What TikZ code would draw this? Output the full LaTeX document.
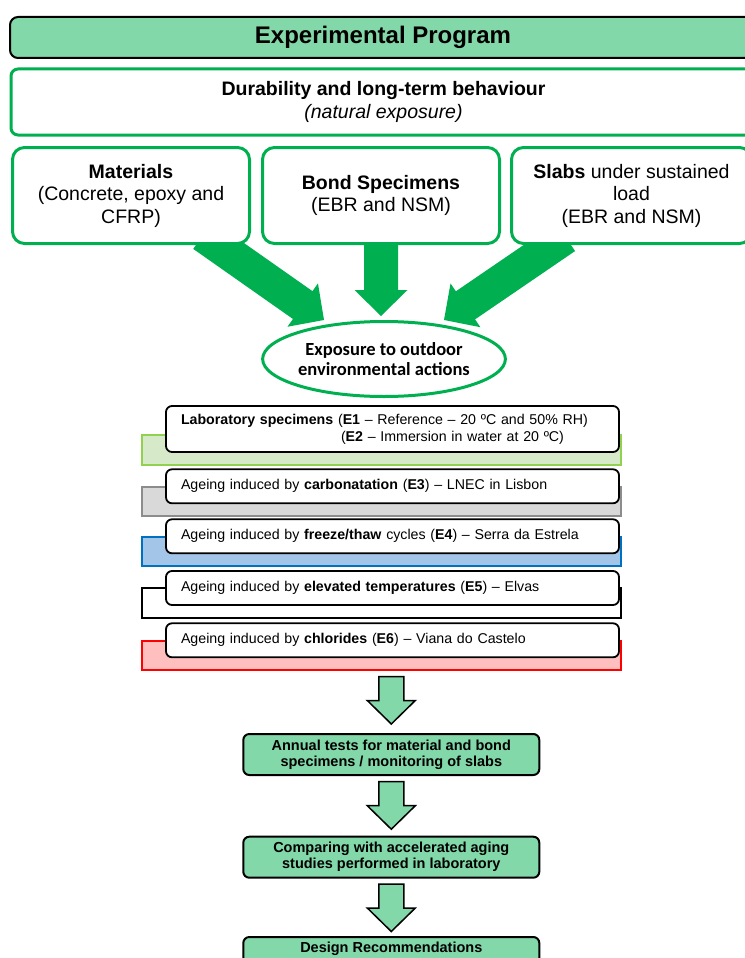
\documentclass[tikz,border=0pt]{standalone}
\usepackage{fontspec}
\setmainfont{Liberation Sans}
\newfontfamily\calibri{Carlito}
\usetikzlibrary{arrows.meta,positioning,calc,backgrounds,shapes.geometric}
\definecolor{Mint}{HTML}{82D8A8}
\definecolor{Leaf}{HTML}{00B050}
\definecolor{Lime}{HTML}{92D050}
\definecolor{LimeFill}{HTML}{D6E9C8}
\definecolor{Ash}{HTML}{8C8C8C}
\definecolor{AshFill}{HTML}{D9D9D9}
\definecolor{Sea}{HTML}{0070C0}
\definecolor{SeaFill}{HTML}{A3C5E7}
\definecolor{Rose}{HTML}{FF0000}
\definecolor{RoseFill}{HTML}{FFBFBF}
% block arrow: [style]{tail}{tip}{half shaft}{half head}{head length}
\newcommand{\fatarrow}[6][]{%
  \path ($(#3)!#6!(#2)$) coordinate (hb);
  \path[#1] ($(#2)!#4!90:(#3)$) -- ($(hb)!#4!-90:(#2)$) -- ($(hb)!#5!-90:(#2)$) -- (#3)
    -- ($(hb)!#5!90:(#2)$) -- ($(hb)!#4!90:(#2)$) -- ($(#2)!#4!-90:(#3)$) -- cycle;}

\begin{document}
\begin{tikzpicture}[x=1pt,y=-1pt,
    hdr/.style={draw,line width=2pt,rounded corners=8pt,fill=Mint,minimum width=746pt,minimum height=41pt,font=\fontsize{24}{28}\selectfont\bfseries},
    gbox/.style={draw=Leaf,line width=3pt,rounded corners=12pt,fill=white,align=center,inner sep=0pt,font=\fontsize{19.5}{22.5}\selectfont},
    lay/.style={draw,line width=1.8pt,rounded corners=6pt,fill=white,text width=423pt,inner xsep=15pt,inner ysep=0pt,align=left,minimum height=34pt,font=\fontsize{14.2}{17}\selectfont},
    back/.style={line width=2pt},
    res/.style={draw,line width=2pt,rounded corners=6pt,fill=Mint,minimum width=296pt,minimum height=41pt,inner sep=0pt,align=center,font=\fontsize{14.5}{16}\selectfont\bfseries},
    big/.style={fill=Leaf},
    flow/.style={fill=Mint,draw,line width=1.5pt}]
  \useasboundingbox (0,0) rectangle (744,958);
  \node[hdr] (prog) at (383,37.5) {Experimental Program};
  \node[gbox,rounded corners=7pt,minimum width=745pt,minimum height=66pt] (dur) at (383.5,102)
    {\textbf{Durability and long-term behaviour}\\\textit{(natural exposure)}};
  \node[gbox,minimum width=237pt,minimum height=96pt] (mat) at (131,195.5)
    {\textbf{Materials}\\(Concrete, epoxy and\\CFRP)};
  \node[gbox,minimum width=237pt,minimum height=96pt,right=10pt of mat] (bond)
    {\textbf{Bond Specimens}\\(EBR and NSM)};
  \node[gbox,minimum width=240pt,minimum height=96pt,right=9pt of bond] (slab)
    {\textbf{Slabs} under sustained\\load\\(EBR and NSM)};
  \node[ellipse,draw=Leaf,line width=3pt,minimum width=232pt,minimum height=75pt,inner sep=0pt,align=center,
    font=\calibri\fontsize{18.5}{20}\selectfont\bfseries] (expo) at (384,359)
    {Exposure to outdoor\\environmental actions};
  % exposure sites
  \node[lay,minimum height=46pt] (e1) at (392.5,429)
    {\textbf{Laboratory specimens} (\textbf{E1} – Reference – 20 ºC and 50\% RH)\\
     \hspace*{160pt}(\textbf{E2} – Immersion in water at 20 ºC)};
  \node[lay] (e3) at (392.5,486.3) {Ageing induced by \textbf{carbonatation} (\textbf{E3}) – LNEC in Lisbon};
  \node[lay] (e4) at (392.5,536.3) {Ageing induced by \textbf{freeze/thaw} cycles (\textbf{E4}) – Serra da Estrela};
  \node[lay] (e5) at (392.5,588) {Ageing induced by \textbf{elevated temperatures} (\textbf{E5}) – Elvas};
  \node[lay] (e6) at (392.5,640.3) {Ageing induced by \textbf{chlorides} (\textbf{E6}) – Viana do Castelo};
  % results
  \node[res] (annual) at (391.3,754.5) {Annual tests for material and bond\\specimens / monitoring of slabs};
  \node[res] (comp) at (391.3,857.2) {Comparing with accelerated aging\\studies performed in laboratory};
  \node[res,text depth=20pt,anchor=north] (design) at (391.3,936) {Design Recommendations};
  \begin{scope}[on background layer]
    \draw[back,draw=Lime,fill=LimeFill] ($(e1.south west)+(-23,-17.5)$) rectangle ($(e1.south east)+(1,12)$);
    \draw[back,draw=Ash,fill=AshFill] ($(e3.south west)+(-23,-17.5)$) rectangle ($(e3.south east)+(1,12)$);
    \draw[back,draw=Sea,fill=SeaFill] ($(e4.south west)+(-23,-17.5)$) rectangle ($(e4.south east)+(1,12)$);
    \draw[back,draw=black,fill=white] ($(e5.south west)+(-23,-17.5)$) rectangle ($(e5.south east)+(1,12)$);
    \draw[back,draw=Rose,fill=RoseFill] ($(e6.south west)+(-23,-17.5)$) rectangle ($(e6.south east)+(1,12)$) coordinate (e6b);
    % green arrows into the ellipse
    \coordinate (lt) at ($(mat.south)+(72,-10)$);
    \coordinate (lh) at ($(expo.center)+(-60,-39)$);
    \fatarrow[big]{lt}{lh}{17pt}{26.5pt}{26pt}
    \coordinate (mt) at ($(bond.south)+(0,-10)$);
    \coordinate (mh) at ($(bond.south)+(0,71)$);
    \fatarrow[big]{mt}{mh}{17pt}{26.5pt}{26pt}
    \coordinate (rt) at ($(slab.south)+(-66,-8)$);
    \coordinate (rh) at ($(expo.center)+(60,-39)$);
    \fatarrow[big]{rt}{rh}{17pt}{26.5pt}{26pt}
  \end{scope}
  % downward arrows
  \coordinate (a1t) at ($(e6b -| annual.north)+(0,6.5)$);
  \coordinate (a1h) at ($(annual.north)+(0,-9)$);
  \fatarrow[flow]{a1t}{a1h}{12.5pt}{24pt}{23.5pt}
  \coordinate (a2t) at ($(annual.south)+(0,5.5)$);
  \coordinate (a2h) at ($(comp.north)+(0,-6.5)$);
  \fatarrow[flow]{a2t}{a2h}{12.5pt}{24pt}{23.5pt}
  \coordinate (a3t) at ($(comp.south)+(0,5.5)$);
  \coordinate (a3h) at ($(design.north)+(0,-4.5)$);
  \fatarrow[flow]{a3t}{a3h}{12.5pt}{24pt}{23.5pt}
\end{tikzpicture}
\end{document}
